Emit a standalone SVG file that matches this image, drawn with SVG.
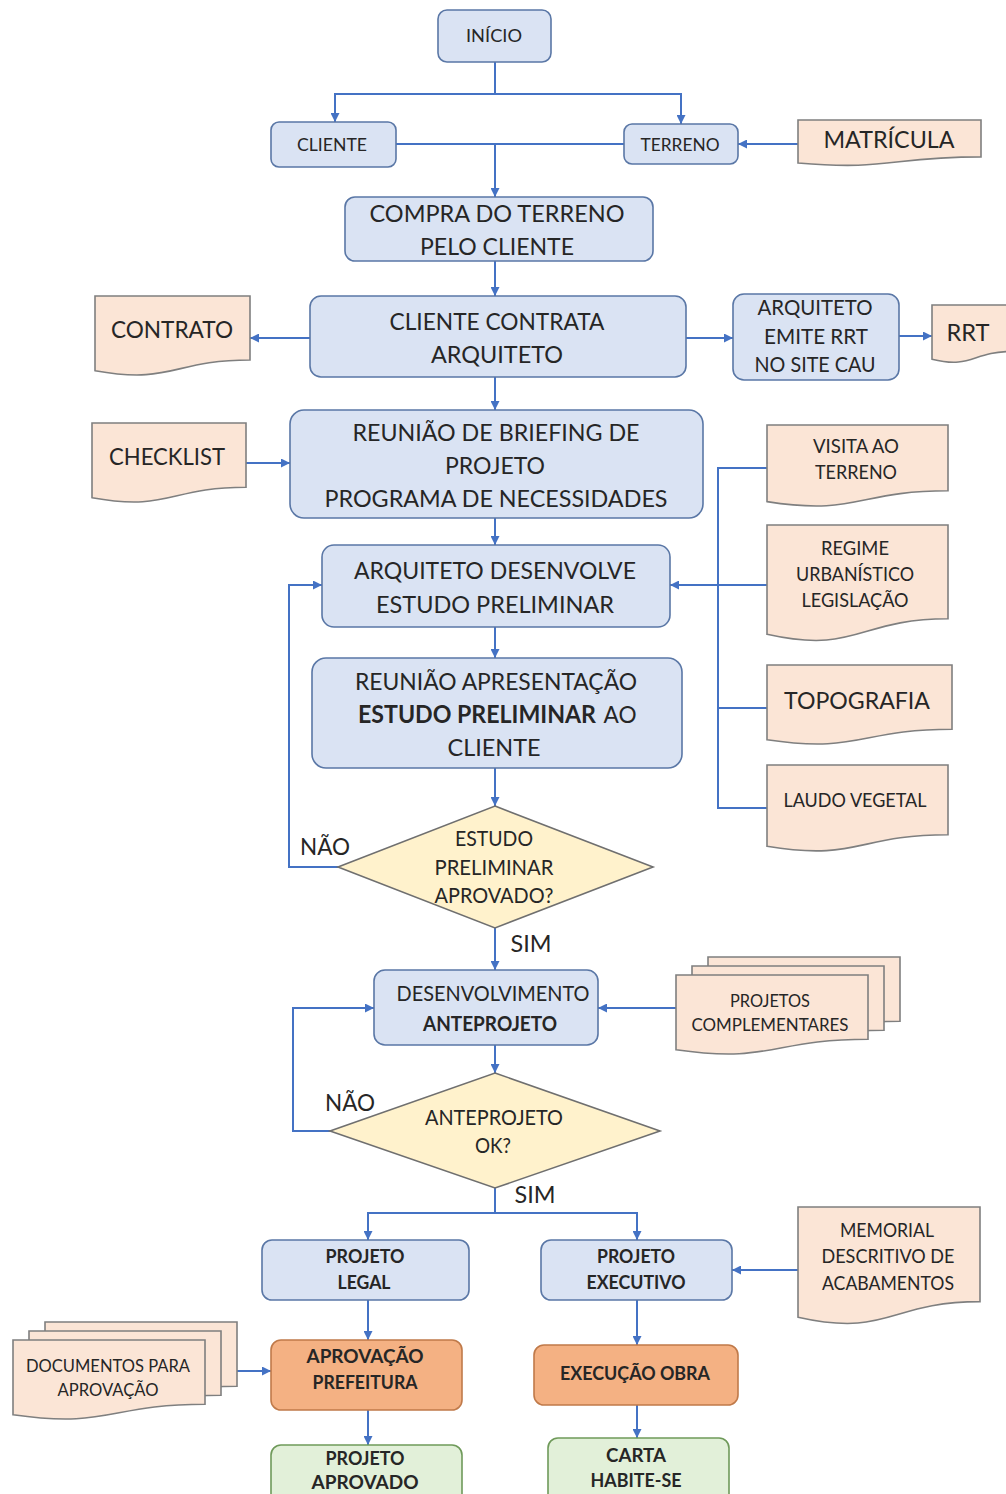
<svg xmlns="http://www.w3.org/2000/svg" width="1006" height="1494" viewBox="0 0 1006 1494">
<defs>
<marker id="arr" viewBox="0 0 10 10" refX="10" refY="5" markerWidth="9" markerHeight="9" markerUnits="userSpaceOnUse" orient="auto">
<path d="M0,0 L10,5 L0,10 z" fill="#4472c4"/>
</marker>
<style>
text{font-family:Lato,"Open Sans","Liberation Sans",sans-serif;fill:#262626;text-anchor:middle;}
.b{font-weight:bold;}
.blue{fill:#dae3f3;stroke:#5a77a6;stroke-width:1.6;}
.doc{fill:#fbe5d6;stroke:#7f7f7f;stroke-width:1.6;}
.dia{fill:#fff2cc;stroke:#6f6f6f;stroke-width:1.6;}
.org{fill:#f4b183;stroke:#c07a4a;stroke-width:1.6;}
.grn{fill:#e2f0d9;stroke:#6f9a5a;stroke-width:1.6;}
.c path{fill:none;stroke:#4472c4;stroke-width:2;}
.c .a{marker-end:url(#arr);}
</style>
</defs>
<rect width="1006" height="1494" fill="#ffffff"/>

<g class="c" id="connectors">
<path class="a" d="M495 62 V94 H335 V122"/>
<path class="a" d="M495 94 H681 V124"/>
<path class="a" d="M798 144 H738"/>
<path d="M396 144 H624"/>
<path class="a" d="M495 144 V197"/>
<path class="a" d="M495 261 V296"/>
<path class="a" d="M310 338 H250"/>
<path class="a" d="M686 338 H733"/>
<path class="a" d="M899 336 H932"/>
<path class="a" d="M495 377 V410"/>
<path class="a" d="M246 463 H290"/>
<path class="a" d="M495 518 V545"/>
<path d="M767 468 H718 V808 H767"/>
<path d="M767 585 H718"/>
<path d="M767 708 H718"/>
<path class="a" d="M718 585 H670"/>
<path class="a" d="M495 627 V658"/>
<path class="a" d="M495 768 V806"/>
<path class="a" d="M338 867 H289 V585 H322"/>
<path class="a" d="M495 928 V970"/>
<path class="a" d="M676 1008 H598"/>
<path class="a" d="M495 1045 V1073"/>
<path class="a" d="M330 1131 H293 V1008 H374"/>
<path class="a" d="M495 1188 V1213 H368 V1240"/>
<path class="a" d="M495 1213 H637 V1240"/>
<path class="a" d="M798 1270 H732"/>
<path class="a" d="M368 1300 V1340"/>
<path class="a" d="M237 1371 H271"/>
<path class="a" d="M368 1410 V1445"/>
<path class="a" d="M637 1300 V1345"/>
<path class="a" d="M637 1405 V1438"/>
</g>

<g id="inicio"><rect class="blue" x="438" y="10" width="113" height="52" rx="9"/>
<text x="494" y="41.5" font-size="18" textLength="56" lengthAdjust="spacingAndGlyphs">INÍCIO</text></g>

<g id="cliente"><rect class="blue" x="271" y="122" width="125" height="45" rx="8"/>
<text x="332" y="150.5" font-size="18" textLength="70" lengthAdjust="spacingAndGlyphs">CLIENTE</text></g>

<g id="terreno"><rect class="blue" x="624" y="124" width="114" height="40" rx="8"/>
<text x="680" y="150.5" font-size="18" textLength="79" lengthAdjust="spacingAndGlyphs">TERRENO</text></g>

<g id="matricula"><path class="doc" d="M798 120 H981 V156.9 C889.5 156.9 889.5 170.9 798 163 Z"/>
<text x="889" y="147.6" font-size="24" textLength="131" lengthAdjust="spacingAndGlyphs">MATRÍCULA</text></g>

<g id="compra"><rect class="blue" x="345" y="197" width="308" height="64" rx="10"/>
<text x="497" y="221.6" font-size="24" textLength="255" lengthAdjust="spacingAndGlyphs">COMPRA DO TERRENO</text>
<text x="497" y="254.6" font-size="24" textLength="154" lengthAdjust="spacingAndGlyphs">PELO CLIENTE</text></g>

<g id="contrato"><path class="doc" d="M95 296 H250 V360 C172.5 360 172.5 384.6 95 370.7 Z"/>
<text x="172" y="337.6" font-size="24" textLength="122" lengthAdjust="spacingAndGlyphs">CONTRATO</text></g>

<g id="contrata"><rect class="blue" x="310" y="296" width="376" height="81" rx="11"/>
<text x="497" y="329.6" font-size="24" textLength="215" lengthAdjust="spacingAndGlyphs">CLIENTE CONTRATA</text>
<text x="497" y="362.6" font-size="24" textLength="132" lengthAdjust="spacingAndGlyphs">ARQUITETO</text></g>

<g id="emite"><rect class="blue" x="733" y="294" width="166" height="86" rx="11"/>
<text x="815" y="314.6" font-size="21" textLength="115" lengthAdjust="spacingAndGlyphs">ARQUITETO</text>
<text x="816" y="343.6" font-size="21" textLength="104" lengthAdjust="spacingAndGlyphs">EMITE RRT</text>
<text x="815" y="371.6" font-size="21" textLength="121" lengthAdjust="spacingAndGlyphs">NO SITE CAU</text></g>

<g id="rrt"><path class="doc" d="M932 305 H1012 V351.5 C972 351.5 972 369.2 932 359.2 Z"/>
<text x="968" y="340.6" font-size="24" textLength="43" lengthAdjust="spacingAndGlyphs">RRT</text></g>

<g id="checklist"><path class="doc" d="M92 423 H246 V487.2 C169 487.2 169 511.6 92 497.7 Z"/>
<text x="167" y="464.6" font-size="24" textLength="116" lengthAdjust="spacingAndGlyphs">CHECKLIST</text></g>

<g id="briefing"><rect class="blue" x="290" y="410" width="413" height="108" rx="14"/>
<text x="496" y="440.6" font-size="24" textLength="287" lengthAdjust="spacingAndGlyphs">REUNIÃO DE BRIEFING DE</text>
<text x="495" y="473.6" font-size="24" textLength="100" lengthAdjust="spacingAndGlyphs">PROJETO</text>
<text x="496" y="506.6" font-size="24" textLength="343" lengthAdjust="spacingAndGlyphs">PROGRAMA DE NECESSIDADES</text></g>

<g id="visita"><path class="doc" d="M767 425 H948 V490.8 C857.5 490.8 857.5 515.8 767 501.6 Z"/>
<text x="856" y="452.8" font-size="19" textLength="86" lengthAdjust="spacingAndGlyphs">VISITA AO</text>
<text x="856" y="478.8" font-size="19" textLength="82" lengthAdjust="spacingAndGlyphs">TERRENO</text></g>

<g id="desenvolve"><rect class="blue" x="322" y="545" width="348" height="82" rx="12"/>
<text x="495" y="578.6" font-size="24" textLength="282" lengthAdjust="spacingAndGlyphs">ARQUITETO DESENVOLVE</text>
<text x="495" y="612.6" font-size="24" textLength="238" lengthAdjust="spacingAndGlyphs">ESTUDO PRELIMINAR</text></g>

<g id="regime"><path class="doc" d="M767 525 H948 V618.8 C857.5 618.8 857.5 654.5 767 634.3 Z"/>
<text x="855" y="554.8" font-size="19" textLength="68" lengthAdjust="spacingAndGlyphs">REGIME</text>
<text x="855" y="580.8" font-size="19" textLength="118" lengthAdjust="spacingAndGlyphs">URBANÍSTICO</text>
<text x="855" y="606.8" font-size="19" textLength="107" lengthAdjust="spacingAndGlyphs">LEGISLAÇÃO</text></g>

<g id="topografia"><path class="doc" d="M767 665 H952 V729.2 C859.5 729.2 859.5 753.6 767 739.7 Z"/>
<text x="857" y="708.6" font-size="24" textLength="146" lengthAdjust="spacingAndGlyphs">TOPOGRAFIA</text></g>

<g id="laudo"><path class="doc" d="M767 765 H948 V834.8 C857.5 834.8 857.5 861.3 767 846.3 Z"/>
<text x="855" y="806.8" font-size="19" textLength="143" lengthAdjust="spacingAndGlyphs">LAUDO VEGETAL</text></g>

<g id="apresentacao"><rect class="blue" x="312" y="658" width="370" height="110" rx="14"/>
<text x="496" y="689.6" font-size="24" textLength="282" lengthAdjust="spacingAndGlyphs">REUNIÃO APRESENTAÇÃO</text>
<text class="b" x="477" y="722.6" font-size="24" textLength="238" lengthAdjust="spacingAndGlyphs">ESTUDO PRELIMINAR</text>
<text x="620" y="722.6" font-size="24" textLength="33" lengthAdjust="spacingAndGlyphs">AO</text>
<text x="494" y="755.6" font-size="24" textLength="93" lengthAdjust="spacingAndGlyphs">CLIENTE</text></g>

<g id="decisao1"><path class="dia" d="M495 806 L653 867 L495 928 L338 867 Z"/>
<text x="494" y="845.6" font-size="21" textLength="78" lengthAdjust="spacingAndGlyphs">ESTUDO</text>
<text x="494" y="874.6" font-size="21" textLength="119" lengthAdjust="spacingAndGlyphs">PRELIMINAR</text>
<text x="494" y="902.6" font-size="21" textLength="119" lengthAdjust="spacingAndGlyphs">APROVADO?</text></g>

<g id="labels">
<text x="325" y="854.6" font-size="24" textLength="50" lengthAdjust="spacingAndGlyphs">NÃO</text>
<text x="531" y="951.6" font-size="24" textLength="41" lengthAdjust="spacingAndGlyphs">SIM</text>
<text x="350" y="1110.6" font-size="24" textLength="50" lengthAdjust="spacingAndGlyphs">NÃO</text>
<text x="535" y="1202.6" font-size="24" textLength="41" lengthAdjust="spacingAndGlyphs">SIM</text>
</g>

<g id="anteprojeto"><rect class="blue" x="374" y="970" width="224" height="75" rx="11"/>
<text x="493" y="1000.6" font-size="21" textLength="193" lengthAdjust="spacingAndGlyphs">DESENVOLVIMENTO</text>
<text class="b" x="490" y="1030.6" font-size="21" textLength="134" lengthAdjust="spacingAndGlyphs">ANTEPROJETO</text></g>

<g id="complementares">
<path class="doc" d="M708 957 H900 V1021.2 C804 1021.2 804 1045.6 708 1031.7 Z"/>
<path class="doc" d="M692 966 H884 V1030.2 C788 1030.2 788 1054.6 692 1040.7 Z"/>
<path class="doc" d="M676 975 H868 V1039.2 C772 1039.2 772 1063.6 676 1049.7 Z"/>
<text x="770" y="1007" font-size="17" textLength="80" lengthAdjust="spacingAndGlyphs">PROJETOS</text>
<text x="770" y="1031" font-size="17" textLength="157" lengthAdjust="spacingAndGlyphs">COMPLEMENTARES</text></g>

<g id="decisao2"><path class="dia" d="M495 1073 L660 1131 L495 1188 L330 1131 Z"/>
<text x="494" y="1124.6" font-size="21" textLength="138" lengthAdjust="spacingAndGlyphs">ANTEPROJETO</text>
<text x="493" y="1152.6" font-size="21" textLength="36" lengthAdjust="spacingAndGlyphs">OK?</text></g>

<g id="legal"><rect class="blue" x="262" y="1240" width="207" height="60" rx="10"/>
<text class="b" x="365" y="1262.8" font-size="19" textLength="79" lengthAdjust="spacingAndGlyphs">PROJETO</text>
<text class="b" x="364" y="1288.8" font-size="19" textLength="53" lengthAdjust="spacingAndGlyphs">LEGAL</text></g>

<g id="executivo"><rect class="blue" x="541" y="1240" width="191" height="60" rx="10"/>
<text class="b" x="636" y="1262.8" font-size="19" textLength="78" lengthAdjust="spacingAndGlyphs">PROJETO</text>
<text class="b" x="636" y="1288.8" font-size="19" textLength="99" lengthAdjust="spacingAndGlyphs">EXECUTIVO</text></g>

<g id="memorial"><path class="doc" d="M798 1207 H980 V1301.6 C889 1301.6 889 1337.6 798 1317.2 Z"/>
<text x="887" y="1236.8" font-size="19" textLength="94" lengthAdjust="spacingAndGlyphs">MEMORIAL</text>
<text x="888" y="1262.8" font-size="19" textLength="133" lengthAdjust="spacingAndGlyphs">DESCRITIVO DE</text>
<text x="888" y="1289.8" font-size="19" textLength="132" lengthAdjust="spacingAndGlyphs">ACABAMENTOS</text></g>

<g id="documentos">
<path class="doc" d="M45 1322 H237 V1386.2 C141 1386.2 141 1410.6 45 1396.7 Z"/>
<path class="doc" d="M29 1331 H221 V1395.2 C125 1395.2 125 1419.6 29 1405.7 Z"/>
<path class="doc" d="M13 1340 H205 V1404.2 C109 1404.2 109 1428.6 13 1414.7 Z"/>
<text x="108" y="1372" font-size="17" textLength="164" lengthAdjust="spacingAndGlyphs">DOCUMENTOS PARA</text>
<text x="108" y="1396" font-size="17" textLength="101" lengthAdjust="spacingAndGlyphs">APROVAÇÃO</text></g>

<g id="prefeitura"><rect class="org" x="271" y="1340" width="191" height="70" rx="10"/>
<text class="b" x="365" y="1362.8" font-size="19" textLength="117" lengthAdjust="spacingAndGlyphs">APROVAÇÃO</text>
<text class="b" x="365" y="1388.8" font-size="19" textLength="105" lengthAdjust="spacingAndGlyphs">PREFEITURA</text></g>

<g id="obra"><rect class="org" x="534" y="1345" width="204" height="60" rx="10"/>
<text class="b" x="635" y="1379.8" font-size="19" textLength="150" lengthAdjust="spacingAndGlyphs">EXECUÇÃO OBRA</text></g>

<g id="aprovado"><rect class="grn" x="271" y="1445" width="191" height="60" rx="10"/>
<text class="b" x="365" y="1464.8" font-size="19" textLength="79" lengthAdjust="spacingAndGlyphs">PROJETO</text>
<text class="b" x="365" y="1488.8" font-size="19" textLength="107" lengthAdjust="spacingAndGlyphs">APROVADO</text></g>

<g id="habite"><rect class="grn" x="548" y="1438" width="181" height="66" rx="10"/>
<text class="b" x="636" y="1461.8" font-size="19" textLength="60" lengthAdjust="spacingAndGlyphs">CARTA</text>
<text class="b" x="636" y="1486.8" font-size="19" textLength="91" lengthAdjust="spacingAndGlyphs">HABITE-SE</text></g>
</svg>
